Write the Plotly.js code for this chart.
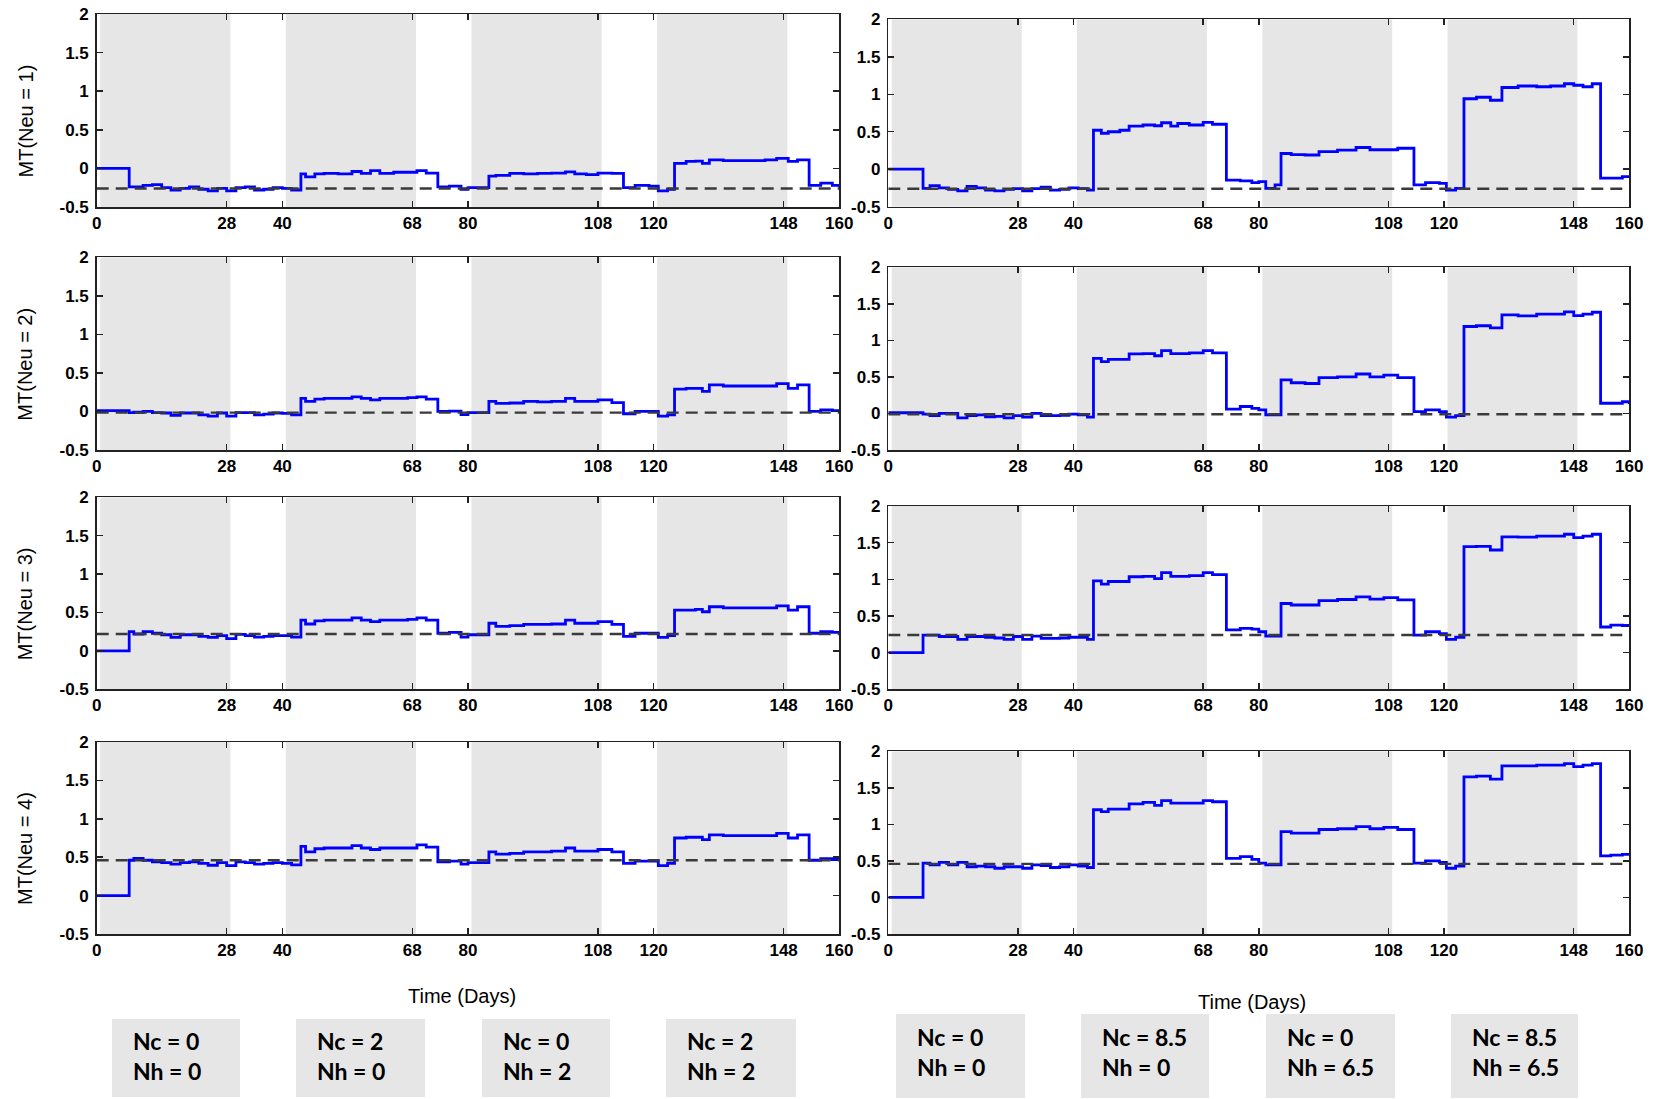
<!DOCTYPE html>
<html><head><meta charset="utf-8">
<script src="https://cdn.plot.ly/plotly-3.0.1.min.js"></script>
<style>html,body{margin:0;padding:0;background:#fff}#chart{width:1653px;height:1099px}</style>
</head><body><div id="chart"></div>
<script>
const W = 1653, H = 1099;

// ---- data ----
const daysLeft = [0, 7, 8, 10, 12, 14, 16, 18, 20, 22,
  24, 26, 28, 30, 32, 34, 36, 38, 40, 42,
  44, 45, 47, 49, 52, 55, 57, 59, 61, 64,
  67, 69, 71, 73.5, 76, 78.5, 80, 82, 84.5, 86,
  89, 92, 95, 98, 101, 103, 105.5, 108, 111, 113.5,
  116, 119, 121, 123, 124.5, 127, 129, 130.5, 132, 135,
  138, 141, 144, 146.5, 149, 151, 153.5, 156, 158.5, 160];

const mtLeft1 = [0, -0.24, -0.24, -0.22, -0.21, -0.25, -0.28, -0.26, -0.24, -0.27,
  -0.29, -0.26, -0.29, -0.25, -0.24, -0.28, -0.27, -0.25, -0.26, -0.28,
  -0.07, -0.11, -0.07, -0.065, -0.07, -0.04, -0.065, -0.03, -0.065, -0.05,
  -0.05, -0.03, -0.06, -0.24, -0.23, -0.27, -0.25, -0.25, -0.1, -0.09,
  -0.065, -0.07, -0.065, -0.06, -0.045, -0.07, -0.08, -0.06, -0.065, -0.25,
  -0.22, -0.23, -0.29, -0.27, 0.065, 0.09, 0.095, 0.065, 0.11, 0.1,
  0.1, 0.1, 0.11, 0.13, 0.09, 0.11, -0.22, -0.19, -0.22, -0.24];

const mtLeft2 = [0.01, -0.015, -0.01, 0, -0.015, -0.02, -0.05, -0.02, -0.02, -0.045,
  -0.06, -0.02, -0.06, -0.015, -0.015, -0.045, -0.035, -0.02, -0.025, -0.045,
  0.17, 0.13, 0.16, 0.17, 0.17, 0.19, 0.17, 0.15, 0.17, 0.17,
  0.18, 0.19, 0.16, 0, 0.005, -0.04, -0.015, -0.015, 0.13, 0.105,
  0.11, 0.13, 0.125, 0.13, 0.17, 0.13, 0.13, 0.15, 0.115, -0.03,
  0, 0, -0.06, -0.045, 0.29, 0.3, 0.3, 0.26, 0.345, 0.33,
  0.33, 0.33, 0.33, 0.36, 0.3, 0.345, 0, 0.02, 0.01, 0];

const mtLeft3 = [0, 0.25, 0.22, 0.25, 0.23, 0.21, 0.175, 0.21, 0.21, 0.19,
  0.175, 0.2, 0.16, 0.215, 0.2, 0.18, 0.19, 0.2, 0.2, 0.18,
  0.4, 0.35, 0.39, 0.4, 0.4, 0.43, 0.4, 0.38, 0.4, 0.4,
  0.41, 0.43, 0.4, 0.23, 0.24, 0.18, 0.21, 0.21, 0.36, 0.32,
  0.33, 0.345, 0.345, 0.35, 0.4, 0.36, 0.36, 0.38, 0.345, 0.19,
  0.23, 0.23, 0.175, 0.2, 0.53, 0.53, 0.54, 0.51, 0.575, 0.56,
  0.56, 0.56, 0.56, 0.585, 0.53, 0.575, 0.23, 0.25, 0.24, 0.23];

const mtLeft4 = [0, 0.46, 0.485, 0.46, 0.44, 0.43, 0.41, 0.43, 0.44, 0.42,
  0.395, 0.43, 0.39, 0.44, 0.43, 0.41, 0.42, 0.43, 0.42, 0.4,
  0.64, 0.57, 0.61, 0.62, 0.62, 0.65, 0.62, 0.6, 0.62, 0.62,
  0.62, 0.66, 0.63, 0.44, 0.45, 0.41, 0.43, 0.43, 0.57, 0.54,
  0.55, 0.57, 0.57, 0.58, 0.62, 0.58, 0.58, 0.6, 0.57, 0.42,
  0.45, 0.45, 0.39, 0.42, 0.75, 0.76, 0.76, 0.73, 0.79, 0.78,
  0.78, 0.78, 0.78, 0.81, 0.75, 0.79, 0.46, 0.48, 0.47, 0.46];

const daysRight = [0, 7.5, 9, 11, 13, 15, 17, 19, 21, 23,
  25, 27, 29, 31, 33, 35, 37, 39, 41, 43,
  44.3, 46, 47.5, 50, 52, 55, 57.5, 59, 61, 62.5,
  65, 68, 70, 73, 76, 78.5, 80, 81.5, 83.5, 84.8,
  87, 90, 93, 97, 101, 104, 107, 110, 113.5, 116,
  119, 120.5, 122.5, 124.3, 127, 130, 132.5, 136, 140, 143,
  146, 148, 150, 152, 153.8, 156, 158.5, 160];

const mtRight1 = [0, -0.255, -0.22, -0.25, -0.27, -0.29, -0.23, -0.25, -0.28, -0.29,
  -0.27, -0.26, -0.29, -0.26, -0.24, -0.28, -0.27, -0.25, -0.26, -0.28,
  0.52, 0.48, 0.5, 0.52, 0.575, 0.59, 0.58, 0.62, 0.575, 0.61,
  0.59, 0.625, 0.6, -0.145, -0.155, -0.18, -0.165, -0.255, -0.21, 0.21,
  0.195, 0.19, 0.235, 0.255, 0.29, 0.26, 0.26, 0.28, -0.21, -0.18,
  -0.19, -0.28, -0.255, 0.94, 0.96, 0.92, 1.09, 1.11, 1.1, 1.11,
  1.14, 1.12, 1.1, 1.14, -0.12, -0.12, -0.1, -0.1];

const mtRight2 = [0.01, -0.01, -0.03, 0, 0, -0.06, -0.03, -0.02, -0.045, -0.04,
  -0.06, -0.03, -0.05, 0, -0.03, -0.03, -0.025, -0.01, -0.02, -0.05,
  0.755, 0.71, 0.74, 0.74, 0.815, 0.82, 0.79, 0.86, 0.82, 0.82,
  0.83, 0.86, 0.83, 0.06, 0.095, 0.07, 0.05, -0.02, -0.02, 0.46,
  0.42, 0.41, 0.49, 0.5, 0.54, 0.5, 0.525, 0.49, 0.025, 0.05,
  0.025, -0.05, -0.03, 1.19, 1.2, 1.17, 1.35, 1.335, 1.36, 1.36,
  1.39, 1.34, 1.36, 1.385, 0.14, 0.14, 0.16, 0.13];

const mtRight3 = [0, 0.24, 0.24, 0.22, 0.22, 0.18, 0.22, 0.22, 0.21, 0.2,
  0.18, 0.22, 0.18, 0.225, 0.195, 0.195, 0.2, 0.21, 0.21, 0.18,
  0.98, 0.935, 0.97, 0.97, 1.035, 1.04, 1.01, 1.09, 1.04, 1.04,
  1.05, 1.09, 1.065, 0.31, 0.33, 0.32, 0.285, 0.225, 0.225, 0.67,
  0.65, 0.65, 0.71, 0.725, 0.76, 0.73, 0.75, 0.72, 0.24, 0.285,
  0.26, 0.18, 0.21, 1.445, 1.45, 1.4, 1.58, 1.575, 1.59, 1.59,
  1.615, 1.57, 1.59, 1.615, 0.35, 0.375, 0.37, 0.36];

const mtRight4 = [0, 0.47, 0.445, 0.48, 0.445, 0.48, 0.42, 0.43, 0.42, 0.4,
  0.42, 0.42, 0.4, 0.445, 0.435, 0.41, 0.42, 0.445, 0.43, 0.41,
  1.2, 1.175, 1.21, 1.21, 1.28, 1.3, 1.26, 1.325, 1.29, 1.29,
  1.29, 1.325, 1.31, 0.535, 0.56, 0.52, 0.47, 0.445, 0.445, 0.9,
  0.88, 0.88, 0.93, 0.94, 0.97, 0.94, 0.96, 0.93, 0.47, 0.5,
  0.48, 0.4, 0.43, 1.65, 1.66, 1.62, 1.8, 1.8, 1.81, 1.81,
  1.83, 1.79, 1.81, 1.83, 0.57, 0.58, 0.59, 0.57];

const baselineLeft = [-0.26, -0.015, 0.22, 0.46];
const baselineRight = [-0.26, -0.01, 0.24, 0.46];

const shadeStart = [0.75, 40.75, 80.75, 120.75];
const shadeEnd = [28.8, 68.8, 108.8, 148.8];

const xTickVals = [0, 28, 40, 68, 80, 108, 120, 148, 160];
const xTickText = ['0', '28', '40', '68', '80', '108', '120', '148', '160'];
const yTickVals = [-0.5, 0, 0.5, 1, 1.5, 2];
const yTickText = ['-0.5', '0', '0.5', '1', '1.5', '2'];

const yTitles = ['MT(Neu = 1)', 'MT(Neu = 2)', 'MT(Neu = 3)', 'MT(Neu = 4)'];
const xTitle = 'Time (Days)';

const ncLeft = ['0', '2', '0', '2'];
const nhLeft = ['0', '0', '2', '2'];
const ncRight = ['0', '8.5', '0', '8.5'];
const nhRight = ['0', '0', '6.5', '6.5'];

// ---- layout geometry (pixels) ----
const colX = [[96.7, 839.3], [888.3, 1629.3]];
const rowY = [
  [[14, 207], [19.3, 206.7]],
  [[257.3, 450], [267.3, 450]],
  [[497.3, 689.3], [506, 689.3]],
  [[742, 934], [751.3, 934]]
];
const boxLeftX = [[112, 240], [296, 425], [482, 610], [666, 796]];
const boxRightX = [[896, 1025], [1081, 1209], [1266, 1395], [1451, 1578]];
const boxLeftY = [1019, 1097], boxRightY = [1014, 1098];

const px = v => v / W;
const py = v => 1 - v / H;
const bold = arr => arr.map(t => '<b>' + t + '</b>');

const seriesLeft = [mtLeft1, mtLeft2, mtLeft3, mtLeft4];
const seriesRight = [mtRight1, mtRight2, mtRight3, mtRight4];

const tickFont = {family: 'Liberation Sans, Arial, sans-serif', size: 17, color: '#000'};
const traces = [], shapes = [], annotations = [];
const layout = {
  width: W, height: H,
  margin: {l: 0, r: 0, t: 0, b: 0},
  paper_bgcolor: '#fff', plot_bgcolor: '#fff',
  showlegend: false
};

for (let r = 0; r < 4; r++) {
  for (let c = 0; c < 2; c++) {
    const k = r * 2 + c + 1;
    const sx = k === 1 ? '' : String(k);
    const xa = 'x' + sx, ya = 'y' + sx;
    const days = c === 0 ? daysLeft : daysRight;
    const vals = c === 0 ? seriesLeft[r] : seriesRight[r];
    const base = c === 0 ? baselineLeft[r] : baselineRight[r];
    traces.push({
      type: 'scatter', mode: 'lines', x: days, y: vals,
      xaxis: xa, yaxis: ya,
      line: {color: '#0000ff', width: 2.8, shape: 'hv'},
      hoverinfo: 'skip'
    });
    const [y0, y1] = rowY[r][c];
    layout['xaxis' + sx] = {
      domain: [px(colX[c][0]), px(colX[c][1])], anchor: ya,
      range: [0, 160], tickmode: 'array', tickvals: xTickVals, ticktext: bold(xTickText),
      showline: true, mirror: 'ticks', linecolor: '#222', linewidth: 1.5,
      ticks: 'inside', ticklen: 6, tickwidth: 1.5, tickcolor: '#222',
      showgrid: false, zeroline: false, tickfont: tickFont, automargin: false,
      fixedrange: true
    };
    layout['yaxis' + sx] = {
      domain: [py(y1), py(y0)], anchor: xa,
      range: [-0.5, 2], tickmode: 'array', tickvals: yTickVals, ticktext: bold(yTickText),
      showline: true, mirror: 'ticks', linecolor: '#222', linewidth: 1.5,
      ticks: 'inside', ticklen: 6, tickwidth: 1.5, tickcolor: '#222',
      showgrid: false, zeroline: false, tickfont: tickFont, automargin: false,
      ticklabelstandoff: 3, fixedrange: true
    };
    for (let i = 0; i < shadeStart.length; i++) {
      shapes.push({
        type: 'rect', xref: xa, yref: ya, layer: 'below',
        x0: shadeStart[i], x1: shadeEnd[i], y0: -0.5, y1: 2,
        fillcolor: '#e6e6e6', line: {width: 0}
      });
    }
    shapes.push({
      type: 'line', xref: xa, yref: ya, layer: 'above',
      x0: 0, x1: 160, y0: base, y1: base,
      line: {color: '#3a3a3a', width: 2.4, dash: '12px,7px'}
    });
  }
  // y-axis titles for left column
  const yc = (rowY[r][0][0] + rowY[r][0][1]) / 2 + 11;
  annotations.push({
    xref: 'paper', yref: 'paper', x: px(25), y: py(yc),
    text: yTitles[r], textangle: -90, showarrow: false,
    xanchor: 'center', yanchor: 'middle',
    font: {family: 'Liberation Sans, Arial, sans-serif', size: 20, color: '#000'}
  });
}

// x titles
annotations.push({xref: 'paper', yref: 'paper', x: px(462), y: py(996), text: xTitle,
  showarrow: false, xanchor: 'center', yanchor: 'middle',
  font: {family: 'Liberation Sans, Arial, sans-serif', size: 20, color: '#000'}});
annotations.push({xref: 'paper', yref: 'paper', x: px(1252), y: py(1002), text: xTitle,
  showarrow: false, xanchor: 'center', yanchor: 'middle',
  font: {family: 'Liberation Sans, Arial, sans-serif', size: 20, color: '#000'}});

// condition boxes
function addBoxes(boxX, boxY, nc, nh, textY) {
  for (let i = 0; i < boxX.length; i++) {
    shapes.push({type: 'rect', xref: 'paper', yref: 'paper',
      x0: px(boxX[i][0]), x1: px(boxX[i][1]), y0: py(boxY[1]), y1: py(boxY[0]),
      fillcolor: '#e6e6e6', line: {width: 0}, layer: 'below'});
    annotations.push({xref: 'paper', yref: 'paper', x: px(boxX[i][0] + 19), y: py(textY),
      text: '<b>Nc = ' + nc[i] + '</b><br><b>Nh = ' + nh[i] + '</b>',
      align: 'left', showarrow: false, xanchor: 'left', yanchor: 'middle',
      font: {family: 'Lato, Liberation Sans, sans-serif', size: 23, color: '#000'}});
  }
}
addBoxes(boxLeftX, boxLeftY, ncLeft, nhLeft, 1056);
addBoxes(boxRightX, boxRightY, ncRight, nhRight, 1052);

layout.shapes = shapes;
layout.annotations = annotations;
Plotly.newPlot('chart', traces, layout, {staticPlot: true, displayModeBar: false});
</script>
</body></html>
